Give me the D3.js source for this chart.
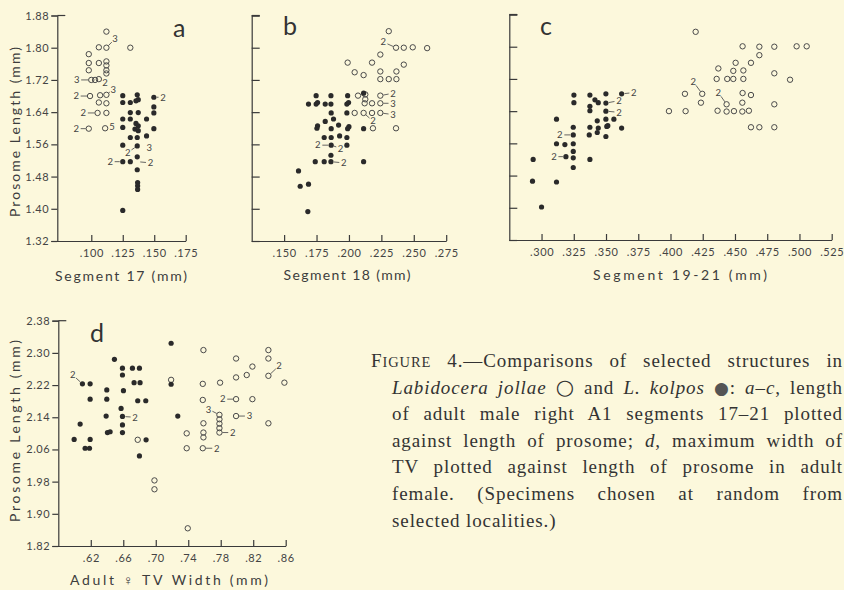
<!DOCTYPE html>
<html lang="en">
<head>
<meta charset="UTF-8">
<title>Figure 4 - Labidocera jollae and L. kolpos</title>
<script src="https://d3js.org/d3.v7.min.js"></script>
<style>
  body { margin: 0; background: #fcf8dc; }
  svg { display: block; }
  .tick text { font-family: Lato, "Open Sans", sans-serif; font-size: 11px; letter-spacing: 0.6px; }
  .lab { font-family: Lato, "Open Sans", sans-serif; font-size: 14px; fill: #3d3d3d; }
  .note { font-family: Lato, "Open Sans", sans-serif; font-size: 9.5px; fill: #444; }
  .letter { font-family: Lato, "Open Sans", sans-serif; font-size: 25px; fill: #333; }
  .cap { font-family: "Liberation Serif", serif; font-size: 19px; fill: #333; white-space: pre; }
</style>
</head>
<body>
<svg id="fig" width="844" height="590"></svg>
<script>
// ---- data: [segment length, prosome length] in mm ----
const aJollae = [
  [0.112,1.840],[0.106,1.801],[0.112,1.800],[0.131,1.800],[0.098,1.784],
  [0.098,1.762],[0.106,1.762],[0.112,1.766],[0.112,1.756],
  [0.098,1.744],[0.112,1.744],[0.112,1.736],
  [0.100,1.720],[0.103,1.720],[0.106,1.722],
  [0.099,1.680],[0.107,1.682],[0.112,1.683],[0.106,1.664],[0.112,1.662],
  [0.105,1.638],[0.112,1.638],[0.098,1.599],[0.111,1.600]
];
const aKolpos = [
  [0.125,1.681],[0.125,1.664],[0.125,1.623],[0.125,1.602],[0.125,1.558],[0.125,1.517],
  [0.131,1.664],[0.131,1.639],[0.131,1.623],[0.131,1.577],[0.131,1.517],
  [0.1365,1.683],[0.1373,1.671],[0.1355,1.668],[0.1373,1.639],[0.1355,1.612],[0.1373,1.606],
  [0.1347,1.598],[0.1373,1.594],[0.1365,1.577],[0.1365,1.556],[0.1365,1.529],[0.1365,1.497],
  [0.1368,1.465],[0.1368,1.457],[0.1368,1.448],
  [0.1439,1.623],[0.1439,1.581],
  [0.1497,1.677],[0.1497,1.653],[0.1497,1.638],[0.1497,1.599],
  [0.125,1.396]
];
const aNotes = [
  {x:0.112,y:1.800,lx:0.1188,ly:1.822,t:"3"},
  {x:0.100,y:1.720,lx:0.0884,ly:1.720,t:"3"},
  {x:0.106,y:1.722,lx:0.1108,ly:1.712,t:"2"},
  {x:0.112,y:1.683,lx:0.1175,ly:1.697,t:"3"},
  {x:0.099,y:1.680,lx:0.0880,ly:1.680,t:"2"},
  {x:0.105,y:1.638,lx:0.0937,ly:1.638,t:"2"},
  {x:0.111,y:1.600,lx:0.1165,ly:1.604,t:"5"},
  {x:0.098,y:1.599,lx:0.0880,ly:1.599,t:"2"},
  {x:0.1365,y:1.556,lx:0.1290,ly:1.540,t:"2"},
  {x:null,y:null,lx:0.1460,ly:1.552,t:"3"},
  {x:0.125,y:1.517,lx:0.1150,ly:1.517,t:"2"},
  {x:0.1365,y:1.517,lx:0.1470,ly:1.514,t:"2"},
  {x:0.1497,y:1.677,lx:0.1570,ly:1.677,t:"2"}
];

const bJollae = [
  [0.2307,1.841],[0.2363,1.800],[0.2423,1.800],[0.2492,1.801],[0.2603,1.799],
  [0.2242,1.783],[0.1990,1.763],[0.2178,1.763],[0.2423,1.758],
  [0.2044,1.739],[0.2113,1.732],
  [0.2242,1.741],[0.2242,1.722],[0.2307,1.722],[0.2366,1.741],[0.2366,1.722],
  [0.2070,1.681],[0.2126,1.684],[0.2126,1.672],[0.2242,1.681],
  [0.2121,1.662],[0.2178,1.662],[0.2242,1.662],
  [0.2044,1.638],[0.2113,1.638],[0.2178,1.638],[0.2242,1.638],
  [0.2185,1.600],[0.2363,1.600]
];
const bKolpos = [
  [0.1747,1.681],[0.1861,1.681],[0.1990,1.681],[0.2113,1.687],
  [0.1688,1.660],[0.1747,1.660],[0.1758,1.664],[0.1817,1.660],[0.1861,1.660],[0.1984,1.660],[0.1997,1.664],
  [0.1863,1.638],[0.1984,1.638],[0.1881,1.623],
  [0.1817,1.617],[0.1758,1.606],[0.1753,1.600],[0.1863,1.599],[0.1920,1.608],[0.2000,1.604],[0.1990,1.599],[0.2113,1.599],
  [0.1809,1.577],[0.1863,1.577],[0.1928,1.581],[0.1984,1.577],
  [0.1863,1.558],[0.1984,1.558],[0.1861,1.533],
  [0.1740,1.517],[0.1809,1.517],[0.1861,1.517],[0.2113,1.517],
  [0.1611,1.494],[0.1624,1.456],[0.1688,1.461],[0.1683,1.393]
];
const bNotes = [
  {x:0.2363,y:1.800,lx:0.2265,ly:1.814,t:"2"},
  {x:0.2242,y:1.681,lx:0.2340,ly:1.687,t:"2"},
  {x:0.2242,y:1.662,lx:0.2340,ly:1.662,t:"3"},
  {x:0.2242,y:1.638,lx:0.2340,ly:1.634,t:"3"},
  {x:0.2113,y:1.638,lx:0.2185,ly:1.618,t:"2"},
  {x:0.1863,y:1.558,lx:0.1760,ly:1.558,t:"2"},
  {x:0.1863,y:1.558,lx:0.1935,ly:1.550,t:"2"},
  {x:0.1861,y:1.517,lx:0.1960,ly:1.514,t:"2"}
];

const cJollae = [
  [0.4195,1.837],
  [0.4559,1.801],[0.4689,1.800],[0.4805,1.800],[0.4978,1.801],[0.5056,1.801],
  [0.4689,1.779],[0.4505,1.760],[0.4624,1.760],
  [0.4371,1.746],[0.4487,1.740],[0.4565,1.741],[0.4805,1.734],
  [0.4358,1.720],[0.4440,1.720],[0.4487,1.720],[0.4565,1.720],[0.4927,1.718],
  [0.4112,1.683],[0.4246,1.683],[0.4559,1.685],[0.4624,1.680],
  [0.4236,1.661],[0.4435,1.657],[0.4557,1.661],[0.4805,1.657],
  [0.3988,1.640],[0.4117,1.640],[0.4365,1.641],[0.4435,1.639],[0.4492,1.640],[0.4557,1.639],[0.4608,1.641],
  [0.4624,1.600],[0.4689,1.600],[0.4805,1.600]
];
const cKolpos = [
  [0.3251,1.680],[0.3251,1.661],
  [0.3375,1.680],[0.3414,1.668],[0.3440,1.661],[0.3375,1.652],[0.3375,1.641],
  [0.3499,1.683],[0.3621,1.683],[0.3499,1.660],[0.3499,1.640],
  [0.3116,1.620],[0.3432,1.616],[0.3499,1.620],[0.3561,1.620],
  [0.3246,1.600],[0.3375,1.600],[0.3440,1.598],[0.3506,1.602],[0.3514,1.604],[0.3621,1.598],
  [0.3116,1.559],[0.3181,1.557],[0.3246,1.559],
  [0.3370,1.581],[0.3432,1.587],[0.3499,1.577],[0.3246,1.581],
  [0.3246,1.540],[0.3246,1.524],[0.3189,1.527],[0.3246,1.500],[0.3375,1.520],
  [0.2935,1.520],[0.2930,1.466],[0.3116,1.464],[0.3000,1.402]
];
const cNotes = [
  {x:0.3621,y:1.683,lx:0.3716,ly:1.686,t:"2"},
  {x:0.3499,y:1.660,lx:0.3600,ly:1.666,t:"2"},
  {x:0.3499,y:1.640,lx:0.3600,ly:1.637,t:"2"},
  {x:0.3246,y:1.581,lx:0.3142,ly:1.581,t:"2"},
  {x:0.3189,y:1.527,lx:0.3096,ly:1.527,t:"2"},
  {x:0.4246,y:1.683,lx:0.4177,ly:1.713,t:"2"},
  {x:0.4435,y:1.657,lx:0.4371,ly:1.686,t:"2"}
];

// d: [adult female TV width, prosome length]
const dJollae = [
  [0.6778,2.084],[0.6984,1.983],[0.6984,1.961],[0.7189,2.233],[0.7394,1.864],
  [0.7381,2.100],[0.7381,2.063],
  [0.7587,2.307],[0.7579,2.223],[0.7579,2.183],[0.7587,2.125],[0.7587,2.102],[0.7587,2.090],[0.7579,2.063],
  [0.7792,2.226],
  [0.7784,2.146],[0.7784,2.135],[0.7784,2.124],[0.7784,2.113],[0.7784,2.102],
  [0.7989,2.286],[0.7989,2.239],[0.7989,2.185],[0.7989,2.143],
  [0.8120,2.245],[0.8190,2.266],[0.8190,2.185],
  [0.8387,2.307],[0.8387,2.286],[0.8387,2.243],[0.8387,2.125],[0.8584,2.226]
];
const dKolpos = [
  [0.6491,2.284],[0.6097,2.223],[0.6192,2.223],[0.6192,2.185],
  [0.5995,2.085],[0.6069,2.123],[0.6130,2.063],[0.6184,2.063],[0.6192,2.085],
  [0.6397,2.208],[0.6397,2.185],[0.6389,2.143],[0.6405,2.102],[0.6438,2.104],
  [0.6590,2.262],[0.6590,2.245],[0.6602,2.206],
  [0.6573,2.162],[0.6590,2.142],[0.6590,2.121],[0.6590,2.102],
  [0.6713,2.262],[0.6799,2.262],[0.6733,2.226],[0.6807,2.226],
  [0.6778,2.181],[0.6877,2.181],[0.6799,2.044],[0.6881,2.084],
  [0.7189,2.324],[0.7189,2.222],[0.7271,2.143]
];
const dNotes = [
  {x:0.6097,y:2.223,lx:0.5978,ly:2.245,t:"2"},
  {x:0.6590,y:2.142,lx:0.6746,ly:2.140,t:"2"},
  {x:0.7784,y:2.146,lx:0.7648,ly:2.160,t:"3"},
  {x:0.7784,y:2.102,lx:0.7948,ly:2.102,t:"2"},
  {x:0.7989,y:2.185,lx:0.7825,ly:2.185,t:"2"},
  {x:0.7989,y:2.143,lx:0.8153,ly:2.143,t:"3"},
  {x:0.7579,y:2.063,lx:0.7751,ly:2.063,t:"2"},
  {x:0.8387,y:2.243,lx:0.8518,ly:2.268,t:"2"}
];

// ---- ticks ----
const yTicksAbc = [1.32,1.40,1.48,1.56,1.64,1.72,1.80,1.88];
const yLabelsAbc = ["1.32","1.40","1.48","1.56","1.64","1.72","1.80","1.88"];
const xTicksA = [0.100,0.125,0.150,0.175];
const xLabelsA = [".100",".125",".150",".175"];
const xTicksB = [0.150,0.175,0.200,0.225,0.250,0.275];
const xLabelsB = [".150",".175",".200",".225",".250",".275"];
const xTicksC = [0.300,0.325,0.350,0.375,0.400,0.425,0.450,0.475,0.500,0.525];
const xLabelsC = [".300",".325",".350",".375",".400",".425",".450",".475",".500",".525"];
const yTicksD = [1.82,1.90,1.98,2.06,2.14,2.22,2.30,2.38];
const yLabelsD = ["1.82","1.90","1.98","2.06","2.14","2.22","2.30","2.38"];
const xTicksD = [0.62,0.66,0.70,0.74,0.78,0.82,0.86];
const xLabelsD = [".62",".66",".70",".74",".78",".82",".86"];

const panels = [
  { letter: "a", open: aJollae, filled: aKolpos, notes: aNotes,
    xDom: [0.073, 0.175], xr: [57.3, 185.7], yDom: [1.32, 1.88], yr: [241, 15.5],
    xTicks: xTicksA, xLabels: xLabelsA, yTicks: yTicksAbc, yLabels: yLabelsAbc,
    letterPos: [173, 37], xTitle: "Segment 17 (mm)", xt: [121, 281, 132],
    yTitle: "Prosome Length (mm)", yt: [20, 132, 170] },
  { letter: "b", open: bJollae, filled: bKolpos, notes: bNotes,
    xDom: [0.125, 0.275], xr: [251.7, 446.2], yDom: [1.32, 1.88], yr: [241, 15.5],
    xTicks: xTicksB, xLabels: xLabelsB, yTicks: yTicksAbc, yLabels: null,
    letterPos: [283, 35], xTitle: "Segment 18 (mm)", xt: [347, 280, 127] },
  { letter: "c", open: cJollae, filled: cKolpos, notes: cNotes,
    xDom: [0.275, 0.525], xr: [509.3, 831.7], yDom: [1.32, 1.88], yr: [240, 14.5],
    xTicks: xTicksC, xLabels: xLabelsC, yTicks: yTicksAbc, yLabels: null,
    letterPos: [540, 35], xTitle: "Segment 19-21 (mm)", xt: [680, 280, 174] },
  { letter: "d", open: dJollae, filled: dKolpos, notes: dNotes,
    xDom: [0.58, 0.86], xr: [58.3, 285.7], yDom: [1.82, 2.38], yr: [546, 320.7],
    xTicks: xTicksD, xLabels: xLabelsD, yTicks: yTicksD, yLabels: yLabelsD,
    letterPos: [90, 342], xTitle: "Adult \u2640 T\u2164 Width (mm)", xt: [169, 585, 198],
    yTitle: "Prosome Length (mm)", yt: [20, 431, 182] }
];

const ink = "#3a3a3a";
const svg = d3.select("#fig");
svg.append("rect").attr("width", 844).attr("height", 590).attr("fill", "#fcf8dc");

panels.forEach(p => {
  const x = d3.scaleLinear().domain(p.xDom).range(p.xr);
  const y = d3.scaleLinear().domain(p.yDom).range(p.yr);
  const g = svg.append("g");

  // x axis, ticks pointing up into the plot
  const xa = g.append("g").attr("transform", `translate(0,${p.yr[0]})`).attr("color", ink)
    .call(d3.axisBottom(x).tickValues(p.xTicks).tickFormat((d, i) => p.xLabels[i])
      .tickSize(-6).tickSizeOuter(0).tickPadding(8));
  xa.selectAll("path, line").attr("stroke-width", 1.2);

  // y axis: labelled panels have outward ticks, the others inward
  const ya = d3.axisLeft(y).tickValues(p.yTicks).tickSizeOuter(0);
  if (p.yLabels) ya.tickSize(6).tickPadding(2).tickFormat((d, i) => p.yLabels[i]);
  else ya.tickSize(-8).tickFormat("");
  const yg = g.append("g").attr("transform", `translate(${p.xr[0]},0)`).attr("color", ink).call(ya);
  yg.selectAll("path, line").attr("stroke-width", 1.2);
  // top bracket
  g.append("line").attr("x1", p.xr[0]).attr("x2", p.xr[0] + 8)
    .attr("y1", y(p.yDom[1])).attr("y2", y(p.yDom[1]))
    .attr("stroke", ink).attr("stroke-width", 1.2);

  // leader lines and counts
  p.notes.forEach(n => {
    const lx = x(n.lx), ly = y(n.ly);
    if (n.x !== null) {
      const px = x(n.x), py = y(n.y);
      const dx = lx - px, dy = ly - py, dist = Math.hypot(dx, dy);
      const ux = dx / dist, uy = dy / dist;
      g.append("line")
        .attr("x1", px + ux * 3).attr("y1", py + uy * 3)
        .attr("x2", lx - ux * 4.5).attr("y2", ly - uy * 4.5)
        .attr("stroke", "#555").attr("stroke-width", 0.9);
    }
    g.append("text").attr("class", "note").attr("x", lx).attr("y", ly)
      .attr("dy", "0.35em").attr("text-anchor", "middle").text(n.t);
  });

  // L. jollae open circles
  g.selectAll(".open").data(p.open).enter().append("circle")
    .attr("cx", d => x(d[0])).attr("cy", d => y(d[1])).attr("r", 2.7)
    .attr("fill", "none").attr("stroke", "#4a4a4a").attr("stroke-width", 1);
  // L. kolpos filled dots
  g.selectAll(".filled").data(p.filled).enter().append("circle")
    .attr("cx", d => x(d[0])).attr("cy", d => y(d[1])).attr("r", 2.6)
    .attr("fill", "#2a2a2a");

  g.append("text").attr("class", "letter").attr("x", p.letterPos[0]).attr("y", p.letterPos[1]).text(p.letter);

  g.append("text").attr("class", "lab").attr("x", p.xt[0]).attr("y", p.xt[1])
    .attr("text-anchor", "middle").attr("textLength", p.xt[2]).attr("lengthAdjust", "spacing")
    .text(p.xTitle);
  if (p.yTitle) {
    g.append("text").attr("class", "lab")
      .attr("transform", `translate(${p.yt[0]},${p.yt[1]}) rotate(-90)`)
      .attr("text-anchor", "middle").attr("textLength", p.yt[2]).attr("lengthAdjust", "spacing")
      .text(p.yTitle);
  }
});

svg.selectAll(".tick text").attr("fill", "#444");

// ---- caption ----
const capLines = [
  { x: 371, w: 472, parts: [{t: "F"}, {t: "IGURE", sc: true}, {t: " 4.\u2014Comparisons of selected structures in"}] },
  { x: 392, w: 451, parts: [{t: "Labidocera jollae", i: true}, {t: " "}, {t: "\u25CB", sym: true}, {t: " and "},
      {t: "L. kolpos", i: true}, {t: " "}, {t: "\u25CF", sym: true, fill: true}, {t: ": "}, {t: "a\u2013c", i: true}, {t: ", length"}] },
  { x: 392, w: 451, parts: [{t: "of adult male right A1 segments 17\u201321 plotted"}] },
  { x: 392, w: 451, parts: [{t: "against length of prosome; "}, {t: "d", i: true}, {t: ", maximum width of"}] },
  { x: 392, w: 451, parts: [{t: "TV plotted against length of prosome in adult"}] },
  { x: 392, w: 451, parts: [{t: "female. (Specimens chosen at random from"}] },
  { x: 392, w: 0, parts: [{t: "selected localities.)"}] }
];
const capBase = [367, 394, 420, 447, 473, 500, 527];

capLines.forEach((line, k) => {
  const t = svg.append("text").attr("class", "cap").attr("x", line.x).attr("y", capBase[k])
    .attr("letter-spacing", 0.9);
  line.parts.forEach(p => {
    const s = t.append("tspan").text(p.t);
    if (p.i) s.attr("font-style", "italic");
    if (p.sc) s.attr("font-size", 14.5);
    if (p.sym) s.attr("font-family", "DejaVu Sans").attr("font-size", p.fill ? 17 : 21)
      .attr("fill", p.fill ? "#555" : "#333");
  });
  if (line.w) {
    const nat = t.node().getComputedTextLength();
    const spaces = (t.text().match(/ /g) || []).length;
    t.style("word-spacing", Math.max(0, (line.w - nat) / spaces) + "px");
  }
});
</script>
</body>
</html>
